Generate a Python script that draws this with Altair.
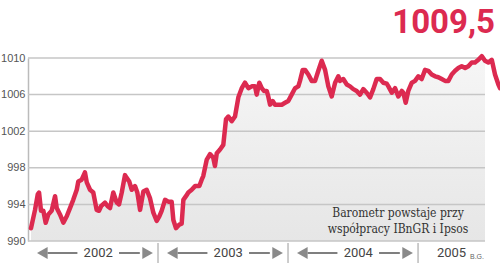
import altair as alt
import pandas as pd

# time in decimal years, barometer value
t = [2002.023, 2002.054, 2002.075, 2002.085, 2002.100, 2002.118, 2002.136, 2002.156, 2002.182, 2002.208,
     2002.221, 2002.246, 2002.272, 2002.298, 2002.323, 2002.348, 2002.375, 2002.387, 2002.413, 2002.438,
     2002.452, 2002.477, 2002.502, 2002.528, 2002.546, 2002.562, 2002.592, 2002.613, 2002.631, 2002.656,
     2002.682, 2002.700, 2002.721, 2002.746, 2002.759, 2002.779, 2002.798, 2002.823, 2002.841, 2002.862,
     2002.887, 2002.913, 2002.938, 2002.964, 2002.990, 2003.010, 2003.028, 2003.054, 2003.079, 2003.105,
     2003.118, 2003.138, 2003.164, 2003.182, 2003.195, 2003.215, 2003.233, 2003.259, 2003.285, 2003.318,
     2003.336, 2003.348, 2003.375, 2003.400, 2003.425, 2003.438, 2003.452, 2003.477, 2003.502, 2003.523,
     2003.541, 2003.567, 2003.592, 2003.618, 2003.644, 2003.669, 2003.695, 2003.721, 2003.746, 2003.759,
     2003.779, 2003.798, 2003.815, 2003.836, 2003.848, 2003.862, 2003.882, 2003.900, 2003.925, 2003.952,
     2003.977, 2004.002, 2004.028, 2004.054, 2004.079, 2004.092, 2004.113, 2004.131, 2004.156, 2004.182,
     2004.208, 2004.233, 2004.259, 2004.285, 2004.310, 2004.336, 2004.362, 2004.387, 2004.400, 2004.425,
     2004.452, 2004.477, 2004.502, 2004.528, 2004.554, 2004.579, 2004.605, 2004.631, 2004.656, 2004.682,
     2004.708, 2004.733, 2004.759, 2004.772, 2004.798, 2004.823, 2004.848, 2004.875, 2004.887, 2004.905,
     2004.925, 2004.952, 2004.977, 2005.002, 2005.028, 2005.054, 2005.079, 2005.105, 2005.131, 2005.156,
     2005.182, 2005.208, 2005.233, 2005.259, 2005.285, 2005.310, 2005.336, 2005.362, 2005.387, 2005.413,
     2005.438, 2005.464, 2005.490, 2005.515, 2005.541, 2005.567, 2005.592, 2005.618, 2005.631]
v = [991.4, 993.4, 995.1, 995.3, 993.3, 993.3, 992.0, 992.9, 993.3, 994.9,
     993.6, 992.9, 992.0, 992.7, 993.6, 994.5, 995.6, 996.5, 996.7, 997.5,
     996.4, 995.6, 995.3, 993.4, 993.3, 993.8, 994.2, 993.8, 993.6, 995.3,
     994.2, 994.0, 995.3, 997.2, 996.9, 996.5, 995.6, 996.0, 995.3, 993.4,
     995.4, 995.6, 994.7, 993.1, 992.2, 992.7, 993.3, 994.5, 994.3, 994.3,
     992.3, 991.4, 991.8, 991.9, 994.5, 994.9, 995.3, 995.6, 996.0, 996.0,
     996.7, 997.1, 998.9, 999.5, 999.1, 998.2, 999.6, 1000.0, 1000.5, 1003.3,
     1003.6, 1003.1, 1003.6, 1005.7, 1006.7, 1007.3, 1006.7, 1006.9, 1006.9, 1006.0,
     1007.3, 1006.7, 1006.4, 1006.4, 1005.8, 1004.9, 1005.3, 1004.9, 1004.9, 1004.9,
     1005.1, 1005.3, 1006.0, 1006.7, 1006.9, 1007.5, 1008.7, 1008.7, 1008.2, 1007.5,
     1007.5, 1008.6, 1009.7, 1008.7, 1006.9, 1005.8, 1007.3, 1008.0, 1007.5, 1007.7,
     1007.1, 1006.9, 1006.6, 1006.4, 1006.0, 1006.6, 1006.2, 1005.7, 1006.6, 1007.7,
     1007.7, 1007.3, 1007.2, 1006.9, 1006.2, 1006.7, 1005.8, 1006.4, 1006.2, 1005.1,
     1006.4, 1007.3, 1007.5, 1008.0, 1007.7, 1008.7, 1008.6, 1008.2, 1008.0, 1007.9,
     1007.7, 1007.5, 1007.5, 1008.2, 1008.6, 1008.9, 1009.1, 1008.9, 1009.1, 1009.5,
     1009.5, 1009.8, 1010.2, 1009.7, 1009.5, 1009.8, 1008.2, 1007.1, 1006.7]

y_ticks = [990, 994, 998, 1002, 1006, 1010]
years = [2002, 2003, 2004, 2005]
headline = "1009,5"
note = ["Barometr powstaje przy", "współpracy IBnGR i Ipsos"]
credit = "B.G."

X_MIN, X_MAX = 2002.0, 2005.515
RED = "#dc2a50"

df = pd.DataFrame({"t": t, "v": v})
xs = alt.Scale(domain=[X_MIN, X_MAX], nice=False, zero=False)
ys = alt.Scale(domain=[990, 1010], nice=False, zero=False)
Y_AXIS = alt.Axis(values=y_ticks, format="d", grid=False, ticks=False, domain=True,
                  domainColor="#bbbbbb", domainWidth=1.5,
                  labelFont="Liberation Sans", labelFontSize=11,
                  labelColor="#555555", labelPadding=3, title=None)

X = alt.X("t:Q", scale=xs, axis=None)

area = alt.Chart(df).mark_area(
    clip=True,
    color=alt.Gradient(gradient="linear", x1=1, x2=1, y1=0, y2=1,
                       stops=[alt.GradientStop(color="#f6f6f6", offset=0),
                              alt.GradientStop(color="#e6e6e6", offset=1)])
).encode(x=X, y=alt.Y("v:Q", scale=ys, axis=Y_AXIS), y2=alt.datum(990))

grid_df = pd.DataFrame({"g": y_ticks, "x0": X_MIN, "x1": X_MAX})
grid = alt.Chart(grid_df).mark_rule(color="#c6c6c6", strokeWidth=1.5).encode(
    x=alt.X("x0:Q", scale=xs, axis=None), x2="x1:Q", y=alt.Y("g:Q", scale=ys, axis=Y_AXIS))

line = alt.Chart(df).mark_line(color=RED, strokeWidth=4.5, strokeJoin="round",
                               strokeCap="round", clip=False).encode(
    x=X, y=alt.Y("v:Q", scale=ys, axis=Y_AXIS))

# year annotation below the axis
full = [y for y in years if y + 1 <= X_MAX]
lab_df = pd.DataFrame({
    "label": [str(y) for y in years],
    "x": [y + 0.54 if y in full else (y + X_MAX) / 2 for y in years]})
labels = alt.Chart(lab_df).mark_text(fontSize=13, font="Roboto", color="#444444",
                                     baseline="middle").encode(
    x=alt.X("x:Q", scale=xs, axis=None), y=alt.value(195), text="label:N")

seg_df = pd.DataFrame({
    "a": [y + 0.15 for y in full] + [y + 0.70 for y in full],
    "b": [y + 0.38 for y in full] + [y + 0.86 for y in full]})
segs = alt.Chart(seg_df).mark_rule(color="#555555", strokeWidth=1.5).encode(
    x=alt.X("a:Q", scale=xs, axis=None), x2="b:Q", y=alt.value(195))

head_df = pd.DataFrame({
    "x": [y + 0.11 for y in full] + [y + 0.92 for y in full],
    "shape": ["triangle-left"] * len(full) + ["triangle-right"] * len(full)})
heads = alt.Chart(head_df).mark_point(filled=True, color="#8a8a8a", opacity=1, size=150).encode(
    x=alt.X("x:Q", scale=xs, axis=None), y=alt.value(195),
    shape=alt.Shape("shape:N", scale=None))

div_df = pd.DataFrame({"x": years[1:]})
divs = alt.Chart(div_df).mark_rule(color="#9a9a9a", strokeWidth=1).encode(
    x=alt.X("x:Q", scale=xs, axis=None), y=alt.value(185), y2=alt.value(205))

head_txt = alt.Chart(pd.DataFrame({"s": [headline]})).mark_text(
    font="Roboto", fontWeight="bold", fontSize=33, color=RED, align="right",
    baseline="alphabetic").encode(x=alt.value(467), y=alt.value(-25), text="s:N")

note1 = alt.Chart(pd.DataFrame({"s": [note[0]]})).mark_text(
    font="DejaVu Serif Condensed", fontSize=12, color="#333333", align="center",
    baseline="middle").encode(x=alt.value(370), y=alt.value(155), text="s:N")
note2 = alt.Chart(pd.DataFrame({"s": [note[1]]})).mark_text(
    font="DejaVu Serif Condensed", fontSize=12, color="#333333", align="center",
    baseline="middle").encode(x=alt.value(370), y=alt.value(171), text="s:N")

credit_txt = alt.Chart(pd.DataFrame({"s": [credit]})).mark_text(
    font="Liberation Sans", fontSize=7, color="#666666", align="left",
    baseline="middle").encode(x=alt.value(442), y=alt.value(199), text="s:N")

chart = alt.layer(area, grid, line, divs, segs, heads, labels, head_txt, note1, note2,
                  credit_txt).properties(
    width=457, height=183,
    autosize=alt.AutoSizeParams(type="none"),
    padding={"left": 28, "top": 58, "right": 15, "bottom": 23},
    background="white",
).configure_view(stroke=None)

chart.save("out.html", embed_options={"renderer": "svg", "actions": False})
